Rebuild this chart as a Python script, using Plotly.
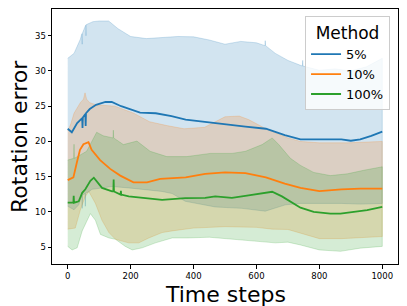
import plotly.graph_objects as go

# ---------------- data ----------------
series_names = ["5%", "10%", "100%"]

blue_mean_t = [0, 13, 30, 46, 47, 48, 56, 57, 58, 70, 90, 120, 140, 170, 200, 230, 280, 330, 375, 440, 500, 565, 630, 690, 740, 800, 870, 900, 930, 965, 1000]
blue_mean = [21.8, 21.3, 22.6, 23.3, 21.9, 23.4, 23.9, 22.2, 24.0, 24.6, 25.2, 25.6, 25.6, 25.0, 24.5, 24.1, 24.0, 23.6, 23.1, 22.75, 22.35, 22.1, 21.8, 20.9, 20.3, 20.3, 20.3, 20.1, 20.3, 20.8, 21.4]
blue_up_t = [0, 20, 40, 45, 46, 47, 57, 58, 59, 60, 80, 100, 130, 160, 200, 250, 300, 350, 400, 450, 500, 550, 600, 627, 628, 629, 660, 700, 746, 747, 748, 800, 850, 900, 950, 1000]
blue_up = [31.8, 32.5, 34.5, 35.3, 33.8, 35.4, 36.5, 35.0, 36.6, 36.6, 37.0, 37.1, 37.1, 36.0, 34.9, 34.6, 34.7, 34.9, 34.85, 34.4, 33.8, 34.2, 34.0, 33.6, 34.3, 33.6, 32.5, 31.5, 30.7, 31.5, 30.7, 30.1, 30.3, 30.0, 30.6, 31.8]
blue_low_t = [0, 20, 35, 45, 46, 47, 55, 56, 57, 65, 77, 99, 141, 194, 247, 300, 332, 374, 469, 554, 628, 692, 740, 800, 870, 930, 1000]
blue_low = [10.8, 10.3, 11.0, 12.3, 10.5, 12.4, 12.6, 10.8, 12.7, 12.8, 13.2, 13.4, 13.6, 13.4, 13.2, 12.9, 12.6, 11.5, 10.7, 10.5, 10.1, 11.0, 11.2, 11.2, 11.2, 11.1, 11.2]

orange_mean_t = [0, 18, 29, 39, 50, 66, 76, 103, 135, 167, 209, 252, 294, 330, 375, 437, 500, 565, 630, 690, 740, 800, 870, 930, 1000]
orange_mean = [14.5, 14.9, 17.0, 18.8, 19.6, 19.9, 18.8, 17.35, 16.1, 15.15, 14.2, 14.2, 14.7, 14.8, 14.9, 15.4, 15.6, 15.5, 14.9, 14.0, 13.4, 12.95, 13.2, 13.3, 13.3]
orange_up_t = [0, 10, 20, 40, 50, 55, 60, 70, 90, 150, 210, 260, 315, 370, 435, 500, 545, 575, 630, 670, 700, 740, 800, 890, 1000]
orange_up = [21.5, 22.5, 24.0, 25.5, 26.0, 26.9, 26.0, 25.5, 25.2, 25.0, 24.0, 22.8, 22.25, 21.8, 22.0, 23.5, 23.6, 23.1, 21.8, 21.0, 20.5, 20.0, 19.8, 19.8, 20.0]
orange_low_t = [0, 24, 40, 56, 67, 88, 109, 131, 152, 194, 226, 258, 300, 332, 400, 500, 600, 650, 700, 750, 800, 870, 930, 1000]
orange_low = [7.55, 7.7, 10.25, 12.2, 12.9, 11.2, 8.8, 7.06, 6.1, 5.6, 5.6, 6.3, 7.06, 7.3, 7.7, 7.9, 7.8, 7.55, 7.5, 6.8, 6.2, 6.2, 6.35, 6.5]

green_mean_t = [0, 18, 19, 20, 35, 46, 56, 72, 83, 93, 109, 141, 145, 146, 147, 168, 169, 170, 194, 247, 300, 374, 437, 469, 522, 575, 629, 650, 681, 708, 740, 782, 835, 867, 910, 952, 1000]
green_mean = [11.3, 11.3, 12.3, 11.3, 11.5, 12.7, 13.2, 14.4, 14.85, 14.3, 13.4, 12.9, 12.9, 14.6, 12.9, 12.45, 13.0, 12.45, 12.2, 11.95, 11.7, 11.95, 12.0, 12.2, 12.0, 12.35, 12.7, 12.85, 12.2, 11.5, 10.6, 10.0, 9.75, 9.75, 10.0, 10.25, 10.7]
green_up_t = [0, 19, 20, 21, 29, 60, 92, 113, 144, 145, 146, 177, 209, 220, 262, 315, 379, 453, 522, 565, 618, 650, 671, 690, 708, 740, 782, 835, 889, 941, 1000]
green_up = [17.35, 17.6, 19.6, 17.6, 17.8, 18.6, 21.3, 20.8, 20.5, 21.6, 20.5, 19.55, 20.0, 20.05, 18.6, 17.85, 17.85, 18.3, 18.3, 18.6, 19.55, 20.5, 19.55, 18.5, 17.6, 16.6, 15.6, 15.15, 15.4, 15.9, 16.4]
green_low_t = [0, 14, 30, 46, 61, 72, 88, 104, 131, 152, 183, 205, 237, 279, 332, 380, 450, 520, 600, 660, 700, 740, 800, 867, 930, 1000]
green_low = [5.1, 4.6, 4.9, 7.3, 8.8, 9.75, 8.8, 6.8, 6.3, 6.1, 5.1, 4.6, 4.9, 5.6, 6.3, 6.3, 6.4, 6.1, 5.8, 5.6, 5.7, 5.3, 4.6, 4.4, 4.85, 5.1]

x_ticks = [0, 200, 400, 600, 800, 1000]
y_ticks = [5, 10, 15, 20, 25, 30, 35]

# ---------------- figure ----------------
colors = [(31, 119, 180), (255, 127, 14), (44, 160, 44)]
series = [
    (blue_mean_t, blue_mean, blue_up_t, blue_up, blue_low_t, blue_low),
    (orange_mean_t, orange_mean, orange_up_t, orange_up, orange_low_t, orange_low),
    (green_mean_t, green_mean, green_up_t, green_up, green_low_t, green_low),
]

fig = go.Figure()
for (mt, m, ut, u, lt, l), c in zip(series, colors):
    band = "rgba(%d,%d,%d,0.2)" % c
    fig.add_trace(go.Scatter(
        x=list(ut) + list(lt)[::-1], y=list(u) + list(l)[::-1],
        fill="toself", fillcolor=band, mode="lines",
        line=dict(color=band, width=1), showlegend=False, hoverinfo="skip"))

for (mt, m, ut, u, lt, l), c, name in zip(series, colors, series_names):
    fig.add_trace(go.Scatter(
        x=mt, y=m, mode="lines", name=name,
        line=dict(color="rgb(%d,%d,%d)" % c, width=1.8)))

font_family = "DejaVu Sans"
axis_common = dict(
    showline=True, mirror=True, linecolor="black", linewidth=1,
    ticks="outside", ticklen=3.5, tickwidth=0.8, tickcolor="black",
    showgrid=False, zeroline=False, automargin=False,
    tickfont=dict(family=font_family, size=8.5, color="black"),
)

# The page body has an 8px default margin, so the figure is sized/offset to compensate.
fig.update_layout(
    width=399, height=298,
    margin=dict(l=44, r=9, t=1, b=42, autoexpand=False),
    plot_bgcolor="white", paper_bgcolor="white",
    font=dict(family=font_family, color="black"),
    xaxis=dict(range=[-50, 1050], tickvals=x_ticks, **axis_common),
    yaxis=dict(range=[2.6, 38.8], tickvals=y_ticks, **axis_common),
    annotations=[
        dict(text="Time steps", xref="paper", yref="paper", x=0.5, y=-0.118,
             xanchor="center", yanchor="middle", showarrow=False,
             font=dict(size=22, family=font_family, color="black")),
        dict(text="Rotation error", xref="paper", yref="paper", x=-0.094, y=0.5,
             xanchor="center", yanchor="middle", textangle=-90, showarrow=False,
             font=dict(size=22, family=font_family, color="black")),
    ],
    legend=dict(
        x=0.977, y=0.972, xanchor="right", yanchor="top",
        bgcolor="rgba(255,255,255,0.8)", bordercolor="#cccccc", borderwidth=1,
        font=dict(size=13, family=font_family),
        title=dict(text="Method", font=dict(size=17, family=font_family), side="top center"),
        tracegroupgap=0, itemwidth=30,
    ),
    showlegend=True,
)

fig.write_html("out.html")
